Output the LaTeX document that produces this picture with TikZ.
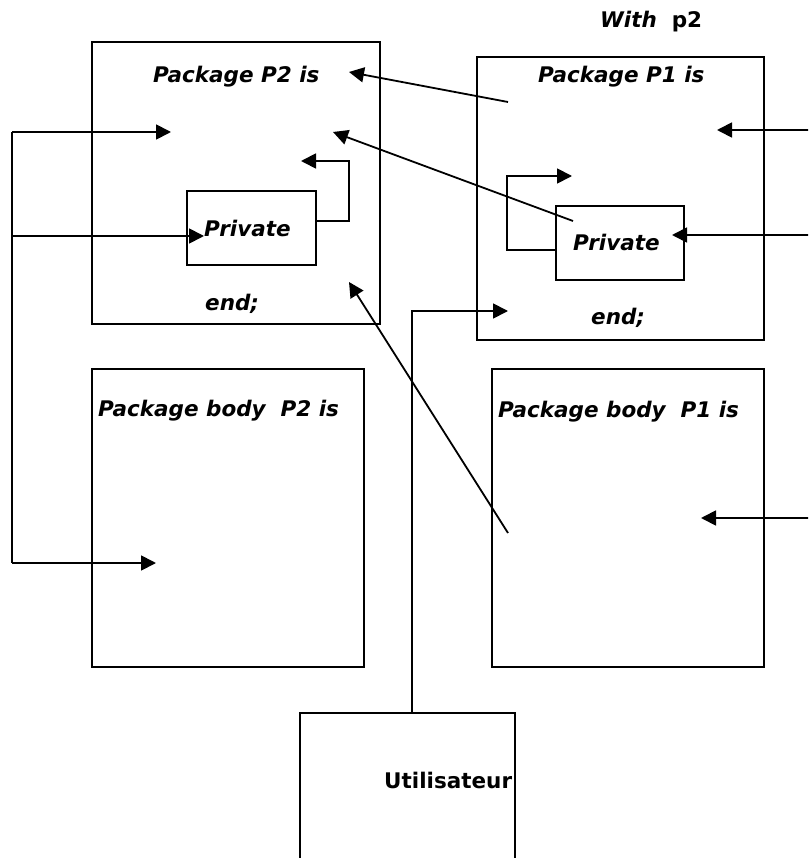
\documentclass[tikz,border=0pt]{standalone}
\usepackage{fontspec}
\setmainfont{DejaVu Sans}
\usetikzlibrary{arrows.meta, positioning}

\begin{document}
\begin{tikzpicture}[
    x=1pt, y=-1pt,
    box/.style={draw, line width=1.8pt, inner sep=0pt},
    lbl/.style={anchor=base west, inner sep=0pt, font=\fontsize{21.5}{25}\selectfont\bfseries\itshape},
    arr/.style={-{Triangle[length=15pt, width=15pt]}, line width=1.8pt},
    wire/.style={line width=1.8pt}
  ]
  \clip (0,0) rectangle (808,858);
  % package specifications
  \node[box, minimum width=288pt, minimum height=282pt] (specp2) at (236,183) {};
  \node[box, minimum width=287pt, minimum height=283pt] (specp1) at (620.5,198.5) {};
  \node[box, minimum width=129pt, minimum height=74pt] (privp2) at (251.5,228) {};
  \node[box, minimum width=128pt, minimum height=74pt] (privp1) at (620,243) {};
  % package bodies and user
  \node[box, minimum width=272pt, minimum height=298pt] (bodyp2) at (228,518) {};
  \node[box, minimum width=272pt, minimum height=298pt] (bodyp1) at (628,518) {};
  \node[box, minimum width=215pt, minimum height=170pt] (user) at (407.5,798) {};

  \node[lbl] (with) at (600,28) {With\ \ \upshape p2};
  \node[lbl] (headp2) at (153,83) {Package P2 is};
  \node[lbl] (endp2) at (205,310) {end;};
  \node[lbl] (lblprivp2) at (204,237) {Private};
  \node[lbl] (headp1) at (538,83) {Package P1 is};
  \node[lbl] (endp1) at (591,324) {end;};
  \node[lbl] (lblprivp1) at (573,251) {Private};
  \node[lbl] (headbodyp2) at (98,416) {Package body\ \ P2 is};
  \node[lbl] (headbodyp1) at (498,417) {Package body\ \ P1 is};
  \node[lbl, font=\fontsize{21.5}{25}\selectfont\bfseries] (lbluser) at (384,788) {Utilisateur};

  \coordinate (busa) at (12,132);
  \coordinate (busb) at (12,236);
  \coordinate (busc) at (12,563);
  \coordinate (inp2) at (171,132);
  \coordinate (inbodyp2) at (156,563);
  \coordinate (loopp2) at (301,161);
  \coordinate (loopp1) at (572,176);
  \coordinate (inp1) at (508,311);
  \coordinate (outp1) at (508,102);
  \coordinate (tophead) at (349,72);
  \coordinate (midp2) at (333,132);
  \coordinate (outpriv) at (573,221);
  \coordinate (outbodyp1) at (508,533);
  \coordinate (lowp2) at (349,282);
  \coordinate (ra) at (810,130);
  \coordinate (rb) at (810,235);
  \coordinate (rc) at (810,518);
  \coordinate (tipa) at (717,130);
  \coordinate (tipb) at (672,235);
  \coordinate (tipc) at (701,518);

  \draw[wire] (busa) -- (busc);
  \draw[arr] (busa) -- (inp2);
  \draw[arr] (busb) -- (busb -| lblprivp2.west);
  \draw[arr] (busc) -- (inbodyp2);
  \draw[arr] ([yshift=7pt]privp2.east) -- ++(32,0) |- (loopp2);
  \draw[arr] ([yshift=-7pt]privp1.west) -- ++(-48,0) |- (loopp1);
  \draw[arr] ([xshift=4.5pt]user.north) |- (inp1);
  \draw[arr] (outp1) -- (tophead);
  \draw[arr] (outpriv) -- (midp2);
  \draw[arr] (outbodyp1) -- (lowp2);
  \draw[arr] (ra) -- (tipa);
  \draw[arr] (rb) -- (tipb);
  \draw[arr] (rc) -- (tipc);
\end{tikzpicture}
\end{document}
